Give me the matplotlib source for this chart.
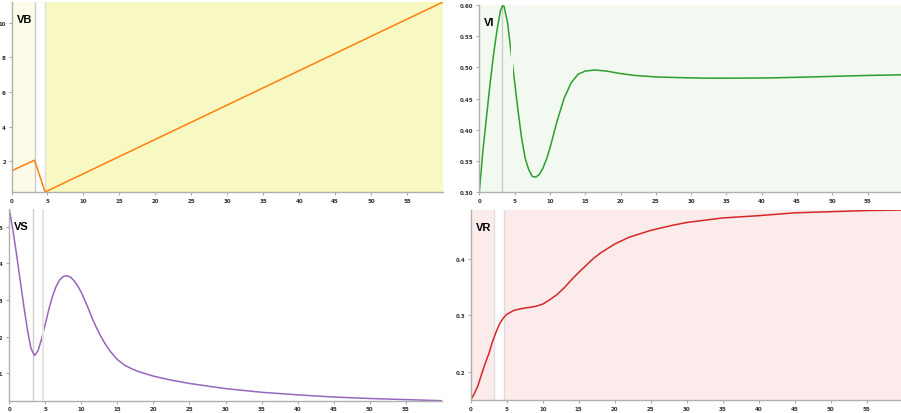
import matplotlib.pyplot as plt
import numpy as np

# time markers (the two vertical lines)
t1 = 3.25
t2 = 4.67

vb_x = [0, 3.2, 4.67, 60]
vb_y = [1.44, 2.06, 0.22, 11.2]

vi_x = [0, 0.5, 1, 1.5, 2, 2.5, 3, 3.3, 3.5, 4, 4.5, 5, 5.5, 6, 6.5, 7, 7.5, 8, 8.5, 9,
        9.5, 10, 11, 12, 13, 14, 15, 16.4, 18, 20, 22, 25, 28, 32, 36, 41, 45, 50, 55, 60]
vi_y = [0.300, 0.365, 0.418, 0.471, 0.519, 0.559, 0.591, 0.599, 0.598, 0.572, 0.524, 0.477,
        0.429, 0.386, 0.354, 0.336, 0.325, 0.324, 0.328, 0.338, 0.352, 0.370, 0.413, 0.450,
        0.475, 0.489, 0.494, 0.4957, 0.494, 0.490, 0.487, 0.4846, 0.4836, 0.4826, 0.4826,
        0.483, 0.484, 0.4855, 0.487, 0.488]

vs_x = [0, 0.5, 1, 1.5, 2, 2.5, 3, 3.5, 4, 4.5, 5, 5.5, 6, 6.5, 7, 7.5, 8, 8.5, 9, 9.5,
        10, 10.5, 11, 11.5, 12, 12.5, 13, 13.5, 14, 15, 16, 17, 18, 20, 22.5, 25, 30, 35,
        40, 45, 50, 55, 60]
vs_y = [0.548, 0.49, 0.425, 0.355, 0.285, 0.22, 0.168, 0.148, 0.162, 0.195, 0.235, 0.275,
        0.31, 0.337, 0.355, 0.364, 0.366, 0.362, 0.352, 0.338, 0.32, 0.298, 0.275, 0.25,
        0.228, 0.208, 0.19, 0.174, 0.16, 0.137, 0.122, 0.112, 0.104, 0.092, 0.081, 0.072,
        0.058, 0.048, 0.041, 0.035, 0.031, 0.028, 0.025]

vr_x = [0, 0.5, 1, 1.5, 2, 2.5, 3, 3.5, 4, 4.5, 5, 6, 7, 8, 9, 10, 11, 12, 13, 14, 15,
        16, 17, 18, 20, 22, 25, 28, 30, 35, 40, 45, 50, 55, 60]
vr_y = [0.151, 0.162, 0.176, 0.196, 0.215, 0.232, 0.253, 0.27, 0.285, 0.295, 0.302, 0.309,
        0.312, 0.314, 0.316, 0.32, 0.328, 0.337, 0.349, 0.363, 0.376, 0.388, 0.4, 0.41,
        0.426, 0.438, 0.45, 0.459, 0.464, 0.472, 0.476, 0.481, 0.483, 0.485, 0.486]

x_ticks = list(range(0, 60, 5))

W, H = 901, 414
fig = plt.figure(figsize=(W / 100, H / 100), dpi=100)


def make_ax(left, right, top, bottom):
    ax = fig.add_axes([left / W, 1 - bottom / H, (right - left) / W, (bottom - top) / H])
    for s in ['top', 'right']:
        ax.spines[s].set_visible(False)
    for s in ['left', 'bottom']:
        ax.spines[s].set_color('#b0b0b0')
        ax.spines[s].set_linewidth(1)
    ax.tick_params(labelsize=4, colors='#aaaaaa', labelcolor='#333333', length=2.5, width=0.8, pad=1.5)
    ax.set_xlim(0, 60)
    ax.set_xticks(x_ticks)
    return ax


def bold_ticks(ax):
    for lab in ax.get_xticklabels() + ax.get_yticklabels():
        lab.set_fontweight('bold')


def label(ax, txt):
    ax.annotate(txt, xy=(0, 1), xycoords='axes fraction', xytext=(5, -17), textcoords='offset pixels',
                fontsize=8, fontweight='bold', va='center', ha='left', family='Liberation Sans')


# VB
ax = make_ax(11.5, 443, 3, 193)
ax.set_ylim(min(vb_y), max(vb_y))
ax.axvspan(0, t1, color='#fbfbe8', lw=0)
ax.axvspan(t2, 60, color='#f8f8c2', lw=0)
ax.axvline(t1, color='#cccccc', lw=1)
ax.axvline(t2, color='#dddddd', lw=1)
ax.plot(vb_x, vb_y, color='#ff7f0e', lw=1.1)
ax.set_yticks([2, 4, 6, 8, 10])
bold_ticks(ax)
label(ax, 'VB')

# VI
ax = make_ax(479.3, 479.3 + 60 * 7.06, 6, 193)
ax.set_ylim(0.30, 0.60)
ax.axvspan(0, 60, color='#f2f9f0', lw=0)
ax.axvline(t1, color='#cccccc', lw=1)
ax.plot(vi_x, vi_y, color='#2ca02c', lw=1.1)
ax.axvline(t2, color='#f8f8f8', lw=1.5, zorder=5)
vi_ticks = np.arange(0.30, 0.601, 0.05)
ax.set_yticks(vi_ticks)
ax.set_yticklabels(['%.2f' % v for v in vi_ticks])
bold_ticks(ax)
label(ax, 'VI')

# VS
ax = make_ax(9.3, 441.7, 210, 401.7)
ax.set_ylim(min(vs_y), max(vs_y))
ax.axvline(t1, color='#cccccc', lw=1)
ax.plot(vs_x, vs_y, color='#9467bd', lw=1.1)
ax.axvline(t2, color='#e4e4e4', lw=1.5, zorder=5)
ax.set_yticks([0.1, 0.2, 0.3, 0.4, 0.5])
ax.set_yticklabels(['0.1', '0.2', '0.3', '0.4', '0.5'])
bold_ticks(ax)
label(ax, 'VS')

# VR
ax = make_ax(470.7, 470.7 + 60 * 7.2, 211, 401)
ax.set_ylim(min(vr_y), max(vr_y))
ax.axvspan(0, t1, color='#fcebeb', lw=0)
ax.axvspan(t2, 60, color='#fcebeb', lw=0)
ax.axvline(t1, color='#dddddd', lw=1)
ax.axvline(t2, color='#dddddd', lw=1)
ax.plot(vr_x, vr_y, color='#d62728', lw=1.1)
ax.set_yticks([0.2, 0.3, 0.4])
ax.set_yticklabels(['0.2', '0.3', '0.4'])
bold_ticks(ax)
label(ax, 'VR')

fig.savefig('out.png', dpi=100)
